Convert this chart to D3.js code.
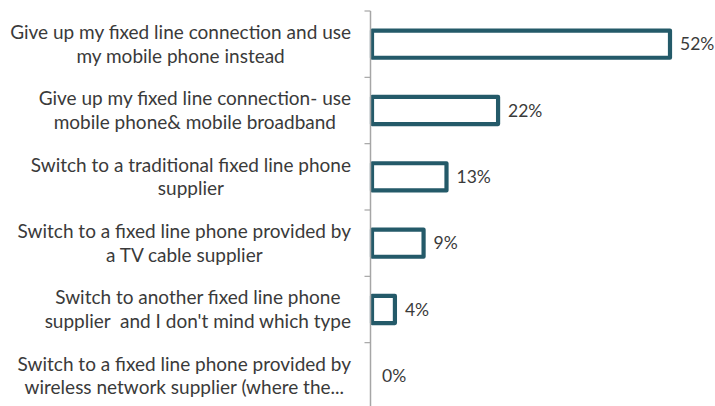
<!DOCTYPE html>
<html>
<head>
<meta charset="utf-8">
<script src="https://cdn.jsdelivr.net/npm/d3@7"></script>
<style>
  html, body { margin: 0; padding: 0; background: #fff; }
  svg { display: block; font-family: Lato, "Open Sans", sans-serif; }
  text { white-space: pre; }
</style>
</head>
<body>
<svg id="chart" width="715" height="406"></svg>
<script>
// Survey answers, top to bottom; "\n" marks where each label wraps
const categories = [
  "Give up my fixed line connection and use\nmy mobile phone instead",
  "Give up my fixed line connection- use\nmobile phone& mobile broadband",
  "Switch to a traditional fixed line phone\nsupplier",
  "Switch to a fixed line phone provided by\na TV cable supplier",
  "Switch to another fixed line phone\nsupplier  and I don't mind which type",
  "Switch to a fixed line phone provided by\nwireless network supplier (where the..."
];
const values = [52, 22, 13, 9, 4, 0];
const valueLabels = ["52%", "22%", "13%", "9%", "4%", "0%"];

const barColor = "#245a69";
const textColor = "#3a3a3a";
const axisColor = "#a6a6a6";
const catFontSize = 19;
const valueFontSize = 17.5;

const svg = d3.select("#chart");

const y = d3.scaleBand()
  .domain(d3.range(categories.length))
  .range([11, 409])
  .paddingInner(0.59)
  .paddingOuter(0.295);

const x = d3.scaleLinear()
  .domain([0, 52])
  .range([372, 670]);

const axisX = 370.5;
const step = y.step();
const y0 = y.range()[0];

const rows = values.map((v, i) => ({ v, i, label: valueLabels[i] }));

// Bars: white fill with a heavy outline
svg.append("g")
  .selectAll("rect")
  .data(rows.filter(d => d.v > 0))
  .join("rect")
  .attr("x", x(0))
  .attr("y", d => y(d.i))
  .attr("width", d => x(d.v) - x(0))
  .attr("height", y.bandwidth())
  .attr("fill", "#fff")
  .attr("stroke", barColor)
  .attr("stroke-width", 4.2)
  .attr("stroke-linejoin", "round");

// Value labels
svg.append("g")
  .selectAll("text")
  .data(rows)
  .join("text")
  .attr("x", d => x(d.v) + 10)
  .attr("y", d => y(d.i) + y.bandwidth() / 2)
  .attr("dy", "0.35em")
  .attr("fill", textColor)
  .attr("font-size", valueFontSize)
  .text(d => d.label);

// Vertical category axis with ticks between bands
svg.append("line")
  .attr("x1", axisX).attr("x2", axisX)
  .attr("y1", y0).attr("y2", y.range()[1])
  .attr("stroke", axisColor)
  .attr("stroke-width", 1.5);

svg.append("g")
  .selectAll("line")
  .data(d3.range(categories.length + 1))
  .join("line")
  .attr("x1", axisX - 6).attr("x2", axisX)
  .attr("y1", i => y0 + i * step)
  .attr("y2", i => y0 + i * step)
  .attr("stroke", axisColor)
  .attr("stroke-width", 1.2);

// Category labels: block right-aligned to the axis, lines centred within it
const labelRight = 351;
const lineHeight = 23.5;
const catG = svg.append("g");
categories.forEach((c, i) => {
  const lines = c.split("\n");
  const g = catG.append("g");
  const cy = y(i) + y.bandwidth() / 2;
  const texts = lines.map((ln, k) => g.append("text")
    .attr("y", cy + (k - (lines.length - 1) / 2) * lineHeight)
    .attr("dy", "0.35em")
    .attr("fill", textColor)
    .attr("font-size", catFontSize)
    .attr("text-anchor", "middle")
    .text(ln));
  const maxW = d3.max(texts, t => t.node().getComputedTextLength());
  texts.forEach(t => t.attr("x", labelRight - maxW / 2));
});
</script>
</body>
</html>
